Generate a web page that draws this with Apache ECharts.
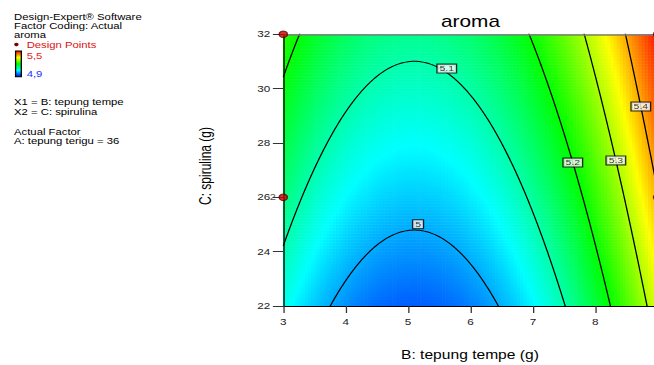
<!DOCTYPE html>
<html>
<head>
<meta charset="utf-8">
<script src="https://cdn.jsdelivr.net/npm/echarts@6/dist/echarts.min.js"></script>
<style>
  html, body { margin: 0; padding: 0; background: #fff; overflow: hidden; width: 654px; height: 365px; }
  /* the drawing is laid out narrow and widened horizontally; the plot runs past the right edge */
  #wrap { position: absolute; left: 0; top: 0; width: 520px; height: 365px; transform: scaleX(1.3); transform-origin: 0 0; }
  #chart { width: 520px; height: 365px; }
</style>
</head>
<body>
<div id="wrap"><div id="chart"></div></div>
<script>
// Fitted response surface for aroma (tepung terigu held at 36):
// aroma = c0 + cC * (C - cRef) + cBB * (B - bCenter)^2
const modelCoef = [4.955, 0.0161, 0.0248];   // c0, cC, cBB
const modelCentre = [5.1, 22];                // bCenter, cRef
const rangeB = [3, 9];
const rangeC = [22, 32];
const contourLevels = [5.0, 5.1, 5.2, 5.3, 5.4];
const contourLabelB = [5.16, 5.62, 7.64, 8.33, 8.73];
const designB = [3, 3, 9, 9];
const designC = [32, 26, 26, 32];
const designRuns = [1, 2, 1, 1];
const colorRange = [4.9, 5.5];
const colorRangeText = ['5,5', '4,9'];

const FONT = '"Liberation Sans", Arial, sans-serif';
const NB = 120, NC = 90;

function aroma(b, c) {
  return modelCoef[0] + modelCoef[1] * (c - modelCentre[1]) + modelCoef[2] * Math.pow(b - modelCentre[0], 2);
}
// C on the contour of a given level, at a given B
function contourC(level, b) {
  return modelCentre[1] + (level - modelCoef[0] - modelCoef[2] * Math.pow(b - modelCentre[0], 2)) / modelCoef[1];
}

// heatmap cells on hidden category axes spanning the same grid
const catB = [], catC = [], cells = [];
const stepB = (rangeB[1] - rangeB[0]) / NB, stepC = (rangeC[1] - rangeC[0]) / NC;
for (let i = 0; i < NB; i++) catB.push(String(i));
for (let j = 0; j < NC; j++) catC.push(String(j));
for (let i = 0; i < NB; i++) {
  const b = rangeB[0] + (i + 0.5) * stepB;
  for (let j = 0; j < NC; j++) {
    const c = rangeC[0] + (j + 0.5) * stepC;
    cells.push([i, j, aroma(b, c)]);
  }
}

// contour polylines, broken where they leave the plotted range
const contourSeries = contourLevels.map(function (level) {
  const pts = [];
  for (let k = 0; k <= 600; k++) {
    const b = rangeB[0] + k * (rangeB[1] - rangeB[0]) / 600;
    const c = contourC(level, b);
    if (c >= rangeC[0] - 1 && c <= rangeC[1] + 1) pts.push([b, c]);
    else pts.push([b, '-']);
  }
  return {
    type: 'line', xAxisIndex: 1, yAxisIndex: 1, data: pts, showSymbol: false,
    silent: true, clip: true, z: 5, connectNulls: false,
    lineStyle: { color: '#000', width: 1 }
  };
});

const labelData = contourLevels.map(function (level, i) {
  const b = contourLabelB[i];
  const item = { value: [b, contourC(level, b), String(level)] };
  if (i === 0) item.label = { offset: [0, -6] };
  if (i === 1) item.label = { offset: [0, -4] };
  return item;
});

const designData = designB.map(function (b, i) {
  return { value: [b, designC[i], designRuns[i]],
    label: { show: designRuns[i] > 1 } };
});

const chart = echarts.init(document.getElementById('chart'), null, { renderer: 'svg' });

const legendText = function (text, x, y, fill) {
  return { type: 'text', x: x, y: y, silent: true,
    style: { text: text, fill: fill || '#000', fontSize: 8.7, fontFamily: FONT, align: 'left', verticalAlign: 'middle' } };
};

chart.setOption({
  animation: false,
  backgroundColor: '#fff',
  grid: { left: 217.9, top: 34.3, width: 288, height: 271.7, containLabel: false },
  xAxis: [
    { type: 'category', data: catB, show: false, gridIndex: 0 },
    { type: 'value', min: rangeB[0], max: rangeB[1], interval: 1, position: 'bottom', z: 10,
      axisLine: { show: true, lineStyle: { color: '#000', width: 1 } },
      axisTick: { show: true, inside: false, length: 7, lineStyle: { color: '#333' } },
      axisLabel: { show: true, margin: 11, fontSize: 9, fontFamily: FONT, color: '#222', showMaxLabel: false },
      splitLine: { show: false } },
    { type: 'value', min: rangeB[0], max: rangeB[1], position: 'top', z: 10,
      axisLine: { show: true, lineStyle: { color: '#7f7f7f', width: 1.6 } },
      axisTick: { show: false }, axisLabel: { show: false }, splitLine: { show: false } }
  ],
  yAxis: [
    { type: 'category', data: catC, show: false, gridIndex: 0 },
    { type: 'value', min: rangeC[0], max: rangeC[1], interval: 2, position: 'left', z: 10,
      axisLine: { show: true, lineStyle: { color: '#000', width: 1 } },
      axisTick: { show: true, inside: false, length: 8, lineStyle: { color: '#333' } },
      axisLabel: { show: true, margin: 10, fontSize: 9, fontFamily: FONT, color: '#222' },
      splitLine: { show: false } }
  ],
  visualMap: {
    show: false, type: 'continuous', min: colorRange[0], max: colorRange[1],
    dimension: 2, seriesIndex: 0,
    inRange: { color: ['#0000ff', '#00ffff', '#00ff00', '#ffff00', '#ff0000'] }
  },
  series: [
    { type: 'heatmap', xAxisIndex: 0, yAxisIndex: 0, data: cells, progressive: 0, silent: true, z: 1 }
  ].concat(contourSeries).concat([
    { type: 'scatter', xAxisIndex: 1, yAxisIndex: 1, data: labelData, symbolSize: 0, silent: true, z: 6,
      label: { show: true, position: 'inside', formatter: function (p) { return p.value[2]; },
        fontSize: 8, lineHeight: 8, fontFamily: FONT, color: '#000',
        backgroundColor: '#fff', borderColor: '#000', borderWidth: 1, padding: [0, 1.5] } },
    { type: 'scatter', xAxisIndex: 1, yAxisIndex: 1, data: designData, symbol: 'circle', symbolSize: 6.5,
      clip: false, silent: true, z: 12,
      itemStyle: { color: '#cc0000', borderColor: '#5a0000', borderWidth: 1 },
      label: { position: 'left', distance: 2, formatter: function (p) { return String(p.value[2]); },
        fontSize: 8.5, fontFamily: FONT, color: '#222' } }
  ]),
  graphic: [
    { type: 'text', x: 361.9, y: 21, silent: true,
      style: { text: 'aroma', fill: '#000', fontSize: 16, fontFamily: FONT, align: 'center', verticalAlign: 'middle' } },
    { type: 'text', x: 361.5, y: 355, silent: true,
      style: { text: 'B: tepung tempe (g)', fill: '#000', fontSize: 12, fontFamily: FONT, align: 'center', verticalAlign: 'middle' } },
    { type: 'text', x: 158, y: 166, rotation: Math.PI / 2, silent: true,
      style: { text: 'C: spirulina (g)', fill: '#000', fontSize: 12, fontFamily: FONT, align: 'center', verticalAlign: 'middle' } },
    legendText('Design-Expert\u00ae Software', 10.8, 17),
    legendText('Factor Coding: Actual', 10.8, 26),
    legendText('aroma', 10.8, 34.5),
    { type: 'circle', silent: true, shape: { cx: 12.6, cy: 44.5, r: 1.7 }, style: { fill: '#7a0000' } },
    legendText('Design Points', 20.5, 44.5, '#dd1111'),
    { type: 'rect', silent: true, shape: { x: 12, y: 51, width: 4.4, height: 25.8 },
      style: { stroke: '#000', lineWidth: 1,
        fill: new echarts.graphic.LinearGradient(0, 0, 0, 1, [
          { offset: 0, color: '#ff0000' }, { offset: 0.25, color: '#ffff00' },
          { offset: 0.5, color: '#00ff00' }, { offset: 0.75, color: '#00ffff' },
          { offset: 1, color: '#0000ff' }]) } },
    legendText(colorRangeText[0], 20.5, 56, '#ee2222'),
    legendText(colorRangeText[1], 20.5, 73.5, '#2233ff'),
    legendText('X1 = B: tepung tempe', 10.8, 102),
    legendText('X2 = C: spirulina', 10.8, 112),
    legendText('Actual Factor', 10.8, 131.5),
    legendText('A: tepung terigu = 36', 10.8, 141)
  ]
});
</script>
</body>
</html>
